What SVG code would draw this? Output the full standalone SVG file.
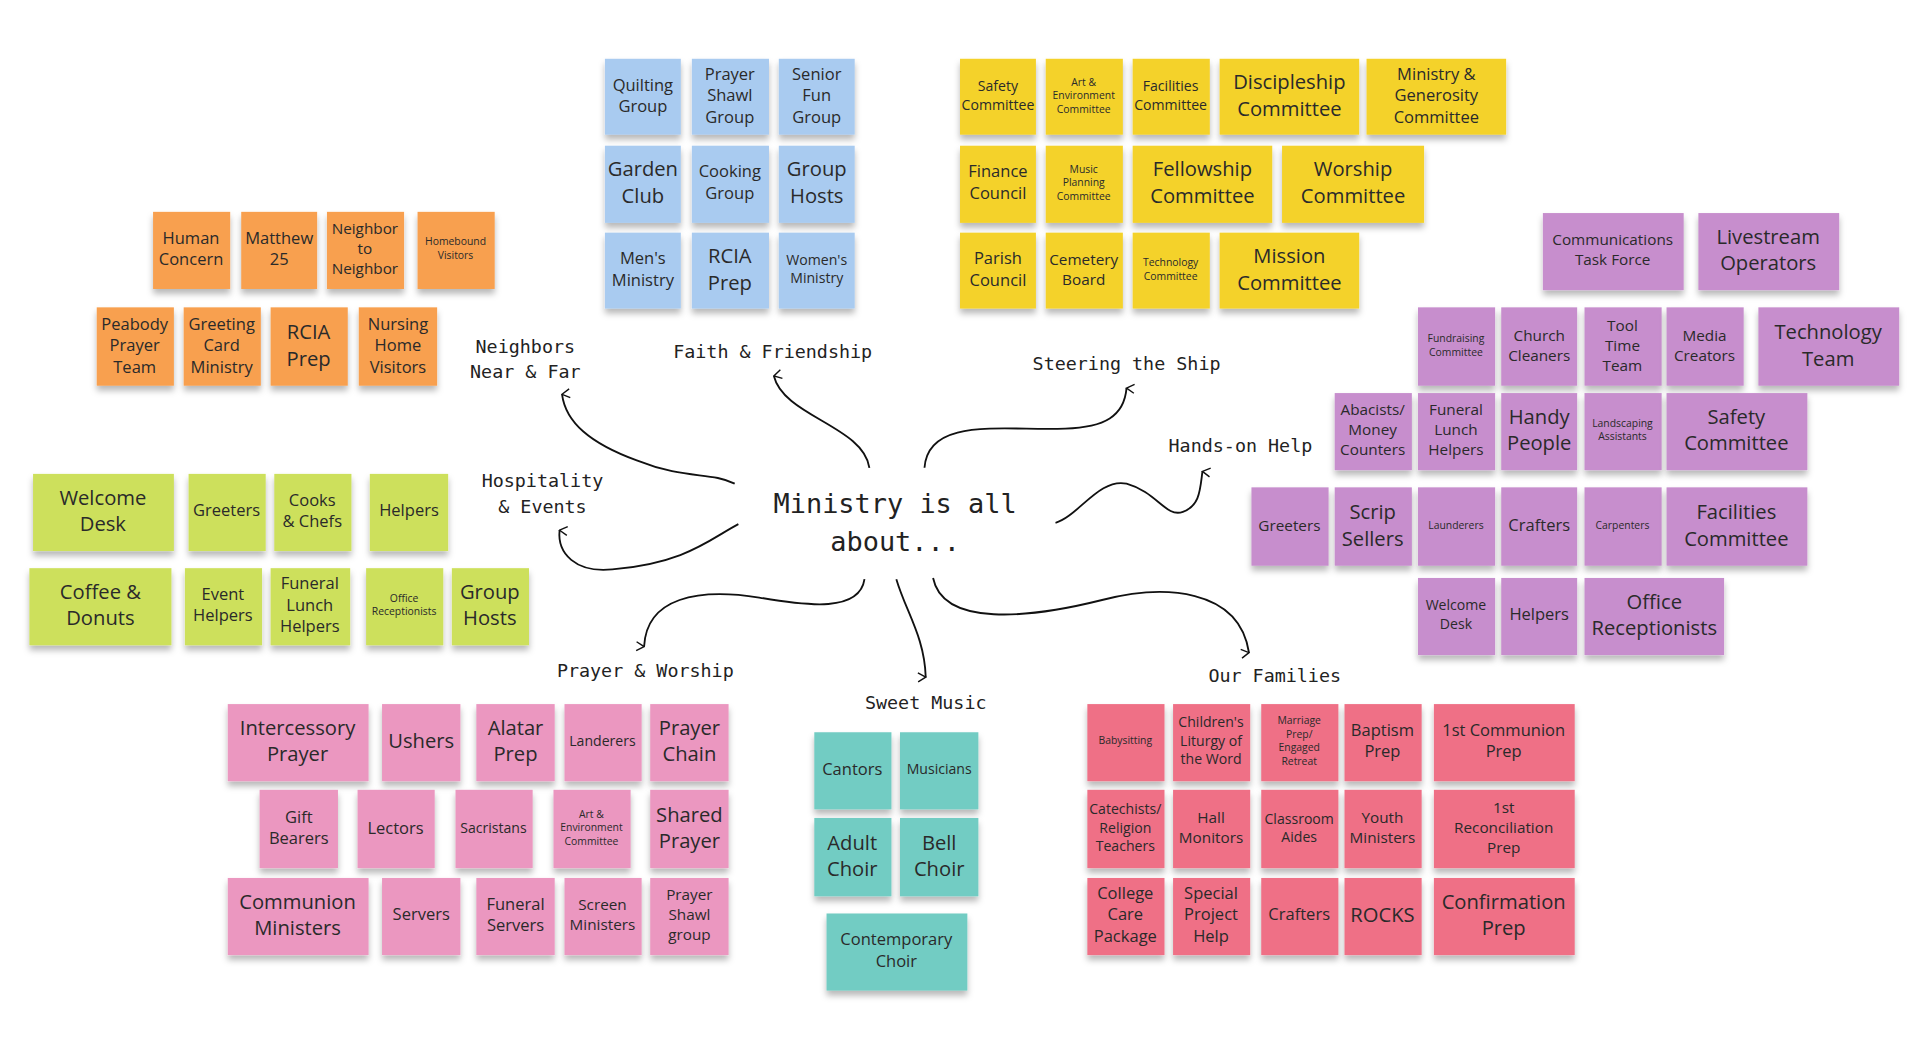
<svg xmlns="http://www.w3.org/2000/svg" width="1920" height="1041" viewBox="0 0 1920 1041">
<style>
text{font-family:"Open Sans","Liberation Sans",sans-serif;fill:#2a2a2a;text-anchor:middle}
.t{font-size:13.5px}.b{font-size:16.5px}.s{font-size:11.5px}.x{font-size:8.5px}.m{font-size:12.5px}
.lab{font-family:"DejaVu Sans Mono","Liberation Mono",monospace;font-size:15px;fill:#222}
.title{font-family:"DejaVu Sans Mono","Liberation Mono",monospace;font-size:22px;fill:#222}
.bl{fill:#a9cbf0}.or{fill:#f8a04f}.gr{fill:#cde05c}.ye{fill:#f4d22c}.pu{fill:#c78ecd}.pk{fill:#eb97c0}.te{fill:#72ccc3}.rd{fill:#ef7086}
rect{filter:url(#sh)}
.c path{fill:none;stroke:#111;stroke-width:1.5;marker-end:url(#ah)}
</style>
<defs>
<filter id="sh" x="-10%" y="-10%" width="120%" height="130%"><feDropShadow dx="0" dy="4" stdDeviation="2.5" flood-color="#000" flood-opacity="0.28"/></filter>
<marker id="ah" viewBox="0 0 10 10" refX="5" refY="1" markerWidth="9" markerHeight="9" orient="auto-start-reverse" markerUnits="userSpaceOnUse"><path d="M1,8 L5,1 L9,8" fill="none" stroke="#111" stroke-width="1.3"/></marker>
</defs>
<rect x="0" y="0" width="1920" height="1041" fill="#fff" style="filter:none"/>
<g transform="scale(1.2245)">
<g class="c" id="connectors">
<path d="M600,395 C580,385 560,392 520,376 C482,362 462,345 459,322"/>
<path d="M710,382 C705,348 640,340 632,307"/>
<path d="M755,382 C758,340 820,352 870,350 C902,349 918,340 920,317"/>
<path d="M862,427 C880,422 898,390 920,395 C945,402 952,423 966,418 C980,413 980,400 982,385"/>
<path d="M603,428 C580,440 560,460 500,465 C470,468 455,452 457,433"/>
<path d="M706,473 C702,500 660,495 620,488 C570,480 528,488 526,528"/>
<path d="M732,473 C740,500 755,520 756,553"/>
<path d="M762,472 C770,512 840,505 900,490 C950,477 1012,480 1020,533"/>
</g>
<g id="labels">
<text class="lab" x="429" y="288"><tspan x="429">Neighbors</tspan><tspan x="429" dy="21">Near &amp; Far</tspan></text>
<text class="lab" x="631" y="292">Faith &amp; Friendship</text>
<text class="lab" x="920" y="302">Steering the Ship</text>
<text class="lab" x="1013" y="369">Hands-on Help</text>
<text class="lab" x="443" y="398"><tspan x="443">Hospitality</tspan><tspan x="443" dy="21">&amp; Events</tspan></text>
<text class="lab" x="527" y="553">Prayer &amp; Worship</text>
<text class="lab" x="756" y="579">Sweet Music</text>
<text class="lab" x="1041" y="557">Our Families</text>
<text class="title" id="center" x="731" y="419"><tspan x="731">Ministry is all</tspan><tspan x="731" dy="31">about...</tspan></text>
</g>
<!-- Blue -->
<g id="quilting"><rect class="bl" x="494" y="48" width="62" height="62"/><text class="t" x="525" y="78"><tspan x="525" dy="-0.3em">Quilting</tspan><tspan x="525" dy="1.3em">Group</tspan></text></g>
<g id="prayershawl"><rect class="bl" x="565" y="48" width="63" height="62"/><text class="t" x="596" y="78"><tspan x="596" dy="-0.95em">Prayer</tspan><tspan x="596" dy="1.3em">Shawl</tspan><tspan x="596" dy="1.3em">Group</tspan></text></g>
<g id="senior"><rect class="bl" x="636" y="48" width="62" height="62"/><text class="t" x="667" y="78"><tspan x="667" dy="-0.95em">Senior</tspan><tspan x="667" dy="1.3em">Fun</tspan><tspan x="667" dy="1.3em">Group</tspan></text></g>
<g id="garden"><rect class="bl" x="494" y="119" width="62" height="63"/><text class="b" x="525" y="149"><tspan x="525" dy="-0.3em">Garden</tspan><tspan x="525" dy="1.3em">Club</tspan></text></g>
<g id="cooking"><rect class="bl" x="565" y="119" width="63" height="63"/><text class="t" x="596" y="149"><tspan x="596" dy="-0.3em">Cooking</tspan><tspan x="596" dy="1.3em">Group</tspan></text></g>
<g id="grouphosts1"><rect class="bl" x="636" y="119" width="62" height="63"/><text class="b" x="667" y="149"><tspan x="667" dy="-0.3em">Group</tspan><tspan x="667" dy="1.3em">Hosts</tspan></text></g>
<g id="mens"><rect class="bl" x="494" y="190" width="62" height="62"/><text class="t" x="525" y="220"><tspan x="525" dy="-0.3em">Men's</tspan><tspan x="525" dy="1.3em">Ministry</tspan></text></g>
<g id="rcia1"><rect class="bl" x="565" y="190" width="63" height="62"/><text class="b" x="596" y="220"><tspan x="596" dy="-0.3em">RCIA</tspan><tspan x="596" dy="1.3em">Prep</tspan></text></g>
<g id="womens"><rect class="bl" x="636" y="190" width="62" height="62"/><text class="s" x="667" y="220"><tspan x="667" dy="-0.3em">Women's</tspan><tspan x="667" dy="1.3em">Ministry</tspan></text></g>
<!-- Orange -->
<g id="human"><rect class="or" x="125" y="173" width="63" height="63"/><text class="t" x="156" y="203"><tspan x="156" dy="-0.3em">Human</tspan><tspan x="156" dy="1.3em">Concern</tspan></text></g>
<g id="matthew"><rect class="or" x="197" y="173" width="62" height="63"/><text class="t" x="228" y="203"><tspan x="228" dy="-0.3em">Matthew</tspan><tspan x="228" dy="1.3em">25</tspan></text></g>
<g id="neighbor"><rect class="or" x="267" y="173" width="63" height="63"/><text class="m" x="298" y="203"><tspan x="298" dy="-0.95em">Neighbor</tspan><tspan x="298" dy="1.3em">to</tspan><tspan x="298" dy="1.3em">Neighbor</tspan></text></g>
<g id="homebound"><rect class="or" x="341" y="173" width="63" height="63"/><text class="x" x="372" y="203"><tspan x="372" dy="-0.3em">Homebound</tspan><tspan x="372" dy="1.3em">Visitors</tspan></text></g>
<g id="peabody"><rect class="or" x="79" y="251" width="63" height="64"/><text class="t" x="110" y="282"><tspan x="110" dy="-0.95em">Peabody</tspan><tspan x="110" dy="1.3em">Prayer</tspan><tspan x="110" dy="1.3em">Team</tspan></text></g>
<g id="greeting"><rect class="or" x="150" y="251" width="63" height="64"/><text class="t" x="181" y="282"><tspan x="181" dy="-0.95em">Greeting</tspan><tspan x="181" dy="1.3em">Card</tspan><tspan x="181" dy="1.3em">Ministry</tspan></text></g>
<g id="rcia2"><rect class="or" x="221" y="251" width="63" height="64"/><text class="b" x="252" y="282"><tspan x="252" dy="-0.3em">RCIA</tspan><tspan x="252" dy="1.3em">Prep</tspan></text></g>
<g id="nursing"><rect class="or" x="293" y="251" width="64" height="64"/><text class="t" x="325" y="282"><tspan x="325" dy="-0.95em">Nursing</tspan><tspan x="325" dy="1.3em">Home</tspan><tspan x="325" dy="1.3em">Visitors</tspan></text></g>
<!-- Green -->
<g id="welcome1"><rect class="gr" x="27" y="387" width="115" height="63"/><text class="b" x="84" y="417"><tspan x="84" dy="-0.3em">Welcome</tspan><tspan x="84" dy="1.3em">Desk</tspan></text></g>
<g id="greeters1"><rect class="gr" x="154" y="387" width="63" height="63"/><text class="t" x="185" y="417"><tspan x="185" dy="0.35em">Greeters</tspan></text></g>
<g id="cooks"><rect class="gr" x="224" y="387" width="63" height="63"/><text class="t" x="255" y="417"><tspan x="255" dy="-0.3em">Cooks</tspan><tspan x="255" dy="1.3em">&amp; Chefs</tspan></text></g>
<g id="helpers1"><rect class="gr" x="302" y="387" width="64" height="63"/><text class="t" x="334" y="417"><tspan x="334" dy="0.35em">Helpers</tspan></text></g>
<g id="coffee"><rect class="gr" x="24" y="464" width="116" height="63"/><text class="b" x="82" y="494"><tspan x="82" dy="-0.3em">Coffee &amp;</tspan><tspan x="82" dy="1.3em">Donuts</tspan></text></g>
<g id="event"><rect class="gr" x="151" y="464" width="63" height="63"/><text class="t" x="182" y="494"><tspan x="182" dy="-0.3em">Event</tspan><tspan x="182" dy="1.3em">Helpers</tspan></text></g>
<g id="funeral1"><rect class="gr" x="221" y="464" width="65" height="63"/><text class="t" x="253" y="494"><tspan x="253" dy="-0.95em">Funeral</tspan><tspan x="253" dy="1.3em">Lunch</tspan><tspan x="253" dy="1.3em">Helpers</tspan></text></g>
<g id="office1"><rect class="gr" x="299" y="464" width="63" height="63"/><text class="x" x="330" y="494"><tspan x="330" dy="-0.3em">Office</tspan><tspan x="330" dy="1.3em">Receptionists</tspan></text></g>
<g id="grouphosts2"><rect class="gr" x="369" y="464" width="63" height="63"/><text class="b" x="400" y="494"><tspan x="400" dy="-0.3em">Group</tspan><tspan x="400" dy="1.3em">Hosts</tspan></text></g>
<!-- Yellow -->
<g id="safety1"><rect class="ye" x="784" y="48" width="62" height="62"/><text class="s" x="815" y="78"><tspan x="815" dy="-0.3em">Safety</tspan><tspan x="815" dy="1.3em">Committee</tspan></text></g>
<g id="art1"><rect class="ye" x="854" y="48" width="63" height="62"/><text class="x" x="885" y="78"><tspan x="885" dy="-0.95em">Art &amp;</tspan><tspan x="885" dy="1.3em">Environment</tspan><tspan x="885" dy="1.3em">Committee</tspan></text></g>
<g id="facilities1"><rect class="ye" x="925" y="48" width="63" height="62"/><text class="s" x="956" y="78"><tspan x="956" dy="-0.3em">Facilities</tspan><tspan x="956" dy="1.3em">Committee</tspan></text></g>
<g id="discipleship"><rect class="ye" x="996" y="48" width="114" height="62"/><text class="b" x="1053" y="78"><tspan x="1053" dy="-0.3em">Discipleship</tspan><tspan x="1053" dy="1.3em">Committee</tspan></text></g>
<g id="generosity"><rect class="ye" x="1116" y="48" width="114" height="62"/><text class="t" x="1173" y="78"><tspan x="1173" dy="-0.95em">Ministry &amp;</tspan><tspan x="1173" dy="1.3em">Generosity</tspan><tspan x="1173" dy="1.3em">Committee</tspan></text></g>
<g id="finance"><rect class="ye" x="784" y="119" width="62" height="63"/><text class="t" x="815" y="149"><tspan x="815" dy="-0.3em">Finance</tspan><tspan x="815" dy="1.3em">Council</tspan></text></g>
<g id="music"><rect class="ye" x="854" y="119" width="63" height="63"/><text class="x" x="885" y="149"><tspan x="885" dy="-0.95em">Music</tspan><tspan x="885" dy="1.3em">Planning</tspan><tspan x="885" dy="1.3em">Committee</tspan></text></g>
<g id="fellowship"><rect class="ye" x="925" y="119" width="114" height="63"/><text class="b" x="982" y="149"><tspan x="982" dy="-0.3em">Fellowship</tspan><tspan x="982" dy="1.3em">Committee</tspan></text></g>
<g id="worship"><rect class="ye" x="1047" y="119" width="116" height="63"/><text class="b" x="1105" y="149"><tspan x="1105" dy="-0.3em">Worship</tspan><tspan x="1105" dy="1.3em">Committee</tspan></text></g>
<g id="parish"><rect class="ye" x="784" y="190" width="62" height="62"/><text class="t" x="815" y="220"><tspan x="815" dy="-0.3em">Parish</tspan><tspan x="815" dy="1.3em">Council</tspan></text></g>
<g id="cemetery"><rect class="ye" x="854" y="190" width="63" height="62"/><text class="m" x="885" y="220"><tspan x="885" dy="-0.3em">Cemetery</tspan><tspan x="885" dy="1.3em">Board</tspan></text></g>
<g id="technology1"><rect class="ye" x="925" y="190" width="63" height="62"/><text class="x" x="956" y="220"><tspan x="956" dy="-0.3em">Technology</tspan><tspan x="956" dy="1.3em">Committee</tspan></text></g>
<g id="mission"><rect class="ye" x="996" y="190" width="114" height="62"/><text class="b" x="1053" y="220"><tspan x="1053" dy="-0.3em">Mission</tspan><tspan x="1053" dy="1.3em">Committee</tspan></text></g>
<!-- Purple -->
<g id="comms"><rect class="pu" x="1260" y="174" width="115" height="63"/><text class="m" x="1317" y="204"><tspan x="1317" dy="-0.3em">Communications</tspan><tspan x="1317" dy="1.3em">Task Force</tspan></text></g>
<g id="livestream"><rect class="pu" x="1387" y="174" width="115" height="63"/><text class="b" x="1444" y="204"><tspan x="1444" dy="-0.3em">Livestream</tspan><tspan x="1444" dy="1.3em">Operators</tspan></text></g>
<g id="fundraising"><rect class="pu" x="1158" y="251" width="63" height="64"/><text class="x" x="1189" y="282"><tspan x="1189" dy="-0.3em">Fundraising</tspan><tspan x="1189" dy="1.3em">Committee</tspan></text></g>
<g id="cleaners"><rect class="pu" x="1226" y="251" width="62" height="64"/><text class="m" x="1257" y="282"><tspan x="1257" dy="-0.3em">Church</tspan><tspan x="1257" dy="1.3em">Cleaners</tspan></text></g>
<g id="tooltime"><rect class="pu" x="1294" y="251" width="63" height="64"/><text class="m" x="1325" y="282"><tspan x="1325" dy="-0.95em">Tool</tspan><tspan x="1325" dy="1.3em">Time</tspan><tspan x="1325" dy="1.3em">Team</tspan></text></g>
<g id="media"><rect class="pu" x="1361" y="251" width="63" height="64"/><text class="m" x="1392" y="282"><tspan x="1392" dy="-0.3em">Media</tspan><tspan x="1392" dy="1.3em">Creators</tspan></text></g>
<g id="techteam"><rect class="pu" x="1436" y="251" width="115" height="64"/><text class="b" x="1493" y="282"><tspan x="1493" dy="-0.3em">Technology</tspan><tspan x="1493" dy="1.3em">Team</tspan></text></g>
<g id="abacists"><rect class="pu" x="1090" y="321" width="63" height="63"/><text class="m" x="1121" y="351"><tspan x="1121" dy="-0.95em">Abacists/</tspan><tspan x="1121" dy="1.3em">Money</tspan><tspan x="1121" dy="1.3em">Counters</tspan></text></g>
<g id="funeral2"><rect class="pu" x="1158" y="321" width="63" height="63"/><text class="m" x="1189" y="351"><tspan x="1189" dy="-0.95em">Funeral</tspan><tspan x="1189" dy="1.3em">Lunch</tspan><tspan x="1189" dy="1.3em">Helpers</tspan></text></g>
<g id="handy"><rect class="pu" x="1226" y="321" width="62" height="63"/><text class="b" x="1257" y="351"><tspan x="1257" dy="-0.3em">Handy</tspan><tspan x="1257" dy="1.3em">People</tspan></text></g>
<g id="landscaping"><rect class="pu" x="1294" y="321" width="63" height="63"/><text class="x" x="1325" y="351"><tspan x="1325" dy="-0.3em">Landscaping</tspan><tspan x="1325" dy="1.3em">Assistants</tspan></text></g>
<g id="safety2"><rect class="pu" x="1361" y="321" width="115" height="63"/><text class="b" x="1418" y="351"><tspan x="1418" dy="-0.3em">Safety</tspan><tspan x="1418" dy="1.3em">Committee</tspan></text></g>
<g id="greeters2"><rect class="pu" x="1022" y="398" width="63" height="64"/><text class="m" x="1053" y="429"><tspan x="1053" dy="0.35em">Greeters</tspan></text></g>
<g id="scrip"><rect class="pu" x="1090" y="398" width="63" height="64"/><text class="b" x="1121" y="429"><tspan x="1121" dy="-0.3em">Scrip</tspan><tspan x="1121" dy="1.3em">Sellers</tspan></text></g>
<g id="launderers"><rect class="pu" x="1158" y="398" width="63" height="64"/><text class="x" x="1189" y="429"><tspan x="1189" dy="0.35em">Launderers</tspan></text></g>
<g id="crafters1"><rect class="pu" x="1226" y="398" width="62" height="64"/><text class="t" x="1257" y="429"><tspan x="1257" dy="0.35em">Crafters</tspan></text></g>
<g id="carpenters"><rect class="pu" x="1294" y="398" width="63" height="64"/><text class="x" x="1325" y="429"><tspan x="1325" dy="0.35em">Carpenters</tspan></text></g>
<g id="facilities2"><rect class="pu" x="1361" y="398" width="115" height="64"/><text class="b" x="1418" y="429"><tspan x="1418" dy="-0.3em">Facilities</tspan><tspan x="1418" dy="1.3em">Committee</tspan></text></g>
<g id="welcome2"><rect class="pu" x="1158" y="472" width="63" height="63"/><text class="s" x="1189" y="502"><tspan x="1189" dy="-0.3em">Welcome</tspan><tspan x="1189" dy="1.3em">Desk</tspan></text></g>
<g id="helpers2"><rect class="pu" x="1226" y="472" width="62" height="63"/><text class="t" x="1257" y="502"><tspan x="1257" dy="0.35em">Helpers</tspan></text></g>
<g id="office2"><rect class="pu" x="1294" y="472" width="114" height="63"/><text class="b" x="1351" y="502"><tspan x="1351" dy="-0.3em">Office</tspan><tspan x="1351" dy="1.3em">Receptionists</tspan></text></g>
<!-- Pink -->
<g id="intercessory"><rect class="pk" x="186" y="575" width="115" height="63"/><text class="b" x="243" y="605"><tspan x="243" dy="-0.3em">Intercessory</tspan><tspan x="243" dy="1.3em">Prayer</tspan></text></g>
<g id="ushers"><rect class="pk" x="312" y="575" width="64" height="63"/><text class="b" x="344" y="605"><tspan x="344" dy="0.35em">Ushers</tspan></text></g>
<g id="alatar"><rect class="pk" x="389" y="575" width="64" height="63"/><text class="b" x="421" y="605"><tspan x="421" dy="-0.3em">Alatar</tspan><tspan x="421" dy="1.3em">Prep</tspan></text></g>
<g id="landerers"><rect class="pk" x="461" y="575" width="63" height="63"/><text class="s" x="492" y="605"><tspan x="492" dy="0.35em">Landerers</tspan></text></g>
<g id="prayerchain"><rect class="pk" x="531" y="575" width="64" height="63"/><text class="b" x="563" y="605"><tspan x="563" dy="-0.3em">Prayer</tspan><tspan x="563" dy="1.3em">Chain</tspan></text></g>
<g id="gift"><rect class="pk" x="212" y="645" width="64" height="64"/><text class="t" x="244" y="676"><tspan x="244" dy="-0.3em">Gift</tspan><tspan x="244" dy="1.3em">Bearers</tspan></text></g>
<g id="lectors"><rect class="pk" x="292" y="645" width="63" height="64"/><text class="t" x="323" y="676"><tspan x="323" dy="0.35em">Lectors</tspan></text></g>
<g id="sacristans"><rect class="pk" x="372" y="645" width="63" height="64"/><text class="s" x="403" y="676"><tspan x="403" dy="0.35em">Sacristans</tspan></text></g>
<g id="art2"><rect class="pk" x="452" y="645" width="63" height="64"/><text class="x" x="483" y="676"><tspan x="483" dy="-0.95em">Art &amp;</tspan><tspan x="483" dy="1.3em">Environment</tspan><tspan x="483" dy="1.3em">Committee</tspan></text></g>
<g id="shared"><rect class="pk" x="531" y="645" width="64" height="64"/><text class="b" x="563" y="676"><tspan x="563" dy="-0.3em">Shared</tspan><tspan x="563" dy="1.3em">Prayer</tspan></text></g>
<g id="communion"><rect class="pk" x="186" y="717" width="115" height="63"/><text class="b" x="243" y="747"><tspan x="243" dy="-0.3em">Communion</tspan><tspan x="243" dy="1.3em">Ministers</tspan></text></g>
<g id="servers"><rect class="pk" x="312" y="717" width="64" height="63"/><text class="t" x="344" y="747"><tspan x="344" dy="0.35em">Servers</tspan></text></g>
<g id="funeralservers"><rect class="pk" x="389" y="717" width="64" height="63"/><text class="t" x="421" y="747"><tspan x="421" dy="-0.3em">Funeral</tspan><tspan x="421" dy="1.3em">Servers</tspan></text></g>
<g id="screen"><rect class="pk" x="461" y="717" width="63" height="63"/><text class="m" x="492" y="747"><tspan x="492" dy="-0.3em">Screen</tspan><tspan x="492" dy="1.3em">Ministers</tspan></text></g>
<g id="prayershawl2"><rect class="pk" x="531" y="717" width="64" height="63"/><text class="m" x="563" y="747"><tspan x="563" dy="-0.95em">Prayer</tspan><tspan x="563" dy="1.3em">Shawl</tspan><tspan x="563" dy="1.3em">group</tspan></text></g>
<!-- Teal -->
<g id="cantors"><rect class="te" x="665" y="598" width="63" height="63"/><text class="t" x="696" y="628"><tspan x="696" dy="0.35em">Cantors</tspan></text></g>
<g id="musicians"><rect class="te" x="735" y="598" width="64" height="63"/><text class="s" x="767" y="628"><tspan x="767" dy="0.35em">Musicians</tspan></text></g>
<g id="adult"><rect class="te" x="665" y="668" width="63" height="64"/><text class="b" x="696" y="699"><tspan x="696" dy="-0.3em">Adult</tspan><tspan x="696" dy="1.3em">Choir</tspan></text></g>
<g id="bell"><rect class="te" x="735" y="668" width="64" height="64"/><text class="b" x="767" y="699"><tspan x="767" dy="-0.3em">Bell</tspan><tspan x="767" dy="1.3em">Choir</tspan></text></g>
<g id="contemporary"><rect class="te" x="675" y="746" width="115" height="63"/><text class="t" x="732" y="776"><tspan x="732" dy="-0.3em">Contemporary</tspan><tspan x="732" dy="1.3em">Choir</tspan></text></g>
<!-- Red -->
<g id="babysitting"><rect class="rd" x="888" y="575" width="63" height="63"/><text class="x" x="919" y="605"><tspan x="919" dy="0.35em">Babysitting</tspan></text></g>
<g id="childrens"><rect class="rd" x="958" y="575" width="63" height="63"/><text class="s" x="989" y="605"><tspan x="989" dy="-0.95em">Children's</tspan><tspan x="989" dy="1.3em">Liturgy of</tspan><tspan x="989" dy="1.3em">the Word</tspan></text></g>
<g id="marriage"><rect class="rd" x="1030" y="575" width="63" height="63"/><text class="x" x="1061" y="605"><tspan x="1061" dy="-1.6em">Marriage</tspan><tspan x="1061" dy="1.3em">Prep/</tspan><tspan x="1061" dy="1.3em">Engaged</tspan><tspan x="1061" dy="1.3em">Retreat</tspan></text></g>
<g id="baptism"><rect class="rd" x="1098" y="575" width="63" height="63"/><text class="t" x="1129" y="605"><tspan x="1129" dy="-0.3em">Baptism</tspan><tspan x="1129" dy="1.3em">Prep</tspan></text></g>
<g id="firstcommunion"><rect class="rd" x="1171" y="575" width="115" height="63"/><text class="t" x="1228" y="605"><tspan x="1228" dy="-0.3em">1st Communion</tspan><tspan x="1228" dy="1.3em">Prep</tspan></text></g>
<g id="catechists"><rect class="rd" x="888" y="645" width="63" height="64"/><text class="s" x="919" y="676"><tspan x="919" dy="-0.95em">Catechists/</tspan><tspan x="919" dy="1.3em">Religion</tspan><tspan x="919" dy="1.3em">Teachers</tspan></text></g>
<g id="hall"><rect class="rd" x="958" y="645" width="63" height="64"/><text class="m" x="989" y="676"><tspan x="989" dy="-0.3em">Hall</tspan><tspan x="989" dy="1.3em">Monitors</tspan></text></g>
<g id="classroom"><rect class="rd" x="1030" y="645" width="63" height="64"/><text class="s" x="1061" y="676"><tspan x="1061" dy="-0.3em">Classroom</tspan><tspan x="1061" dy="1.3em">Aides</tspan></text></g>
<g id="youth"><rect class="rd" x="1098" y="645" width="63" height="64"/><text class="m" x="1129" y="676"><tspan x="1129" dy="-0.3em">Youth</tspan><tspan x="1129" dy="1.3em">Ministers</tspan></text></g>
<g id="reconciliation"><rect class="rd" x="1171" y="645" width="115" height="64"/><text class="m" x="1228" y="676"><tspan x="1228" dy="-0.95em">1st</tspan><tspan x="1228" dy="1.3em">Reconciliation</tspan><tspan x="1228" dy="1.3em">Prep</tspan></text></g>
<g id="college"><rect class="rd" x="888" y="717" width="63" height="63"/><text class="t" x="919" y="747"><tspan x="919" dy="-0.95em">College</tspan><tspan x="919" dy="1.3em">Care</tspan><tspan x="919" dy="1.3em">Package</tspan></text></g>
<g id="special"><rect class="rd" x="958" y="717" width="63" height="63"/><text class="t" x="989" y="747"><tspan x="989" dy="-0.95em">Special</tspan><tspan x="989" dy="1.3em">Project</tspan><tspan x="989" dy="1.3em">Help</tspan></text></g>
<g id="crafters2"><rect class="rd" x="1030" y="717" width="63" height="63"/><text class="t" x="1061" y="747"><tspan x="1061" dy="0.35em">Crafters</tspan></text></g>
<g id="rocks"><rect class="rd" x="1098" y="717" width="63" height="63"/><text class="b" x="1129" y="747"><tspan x="1129" dy="0.35em">ROCKS</tspan></text></g>
<g id="confirmation"><rect class="rd" x="1171" y="717" width="115" height="63"/><text class="b" x="1228" y="747"><tspan x="1228" dy="-0.3em">Confirmation</tspan><tspan x="1228" dy="1.3em">Prep</tspan></text></g>
</g>
</svg>
